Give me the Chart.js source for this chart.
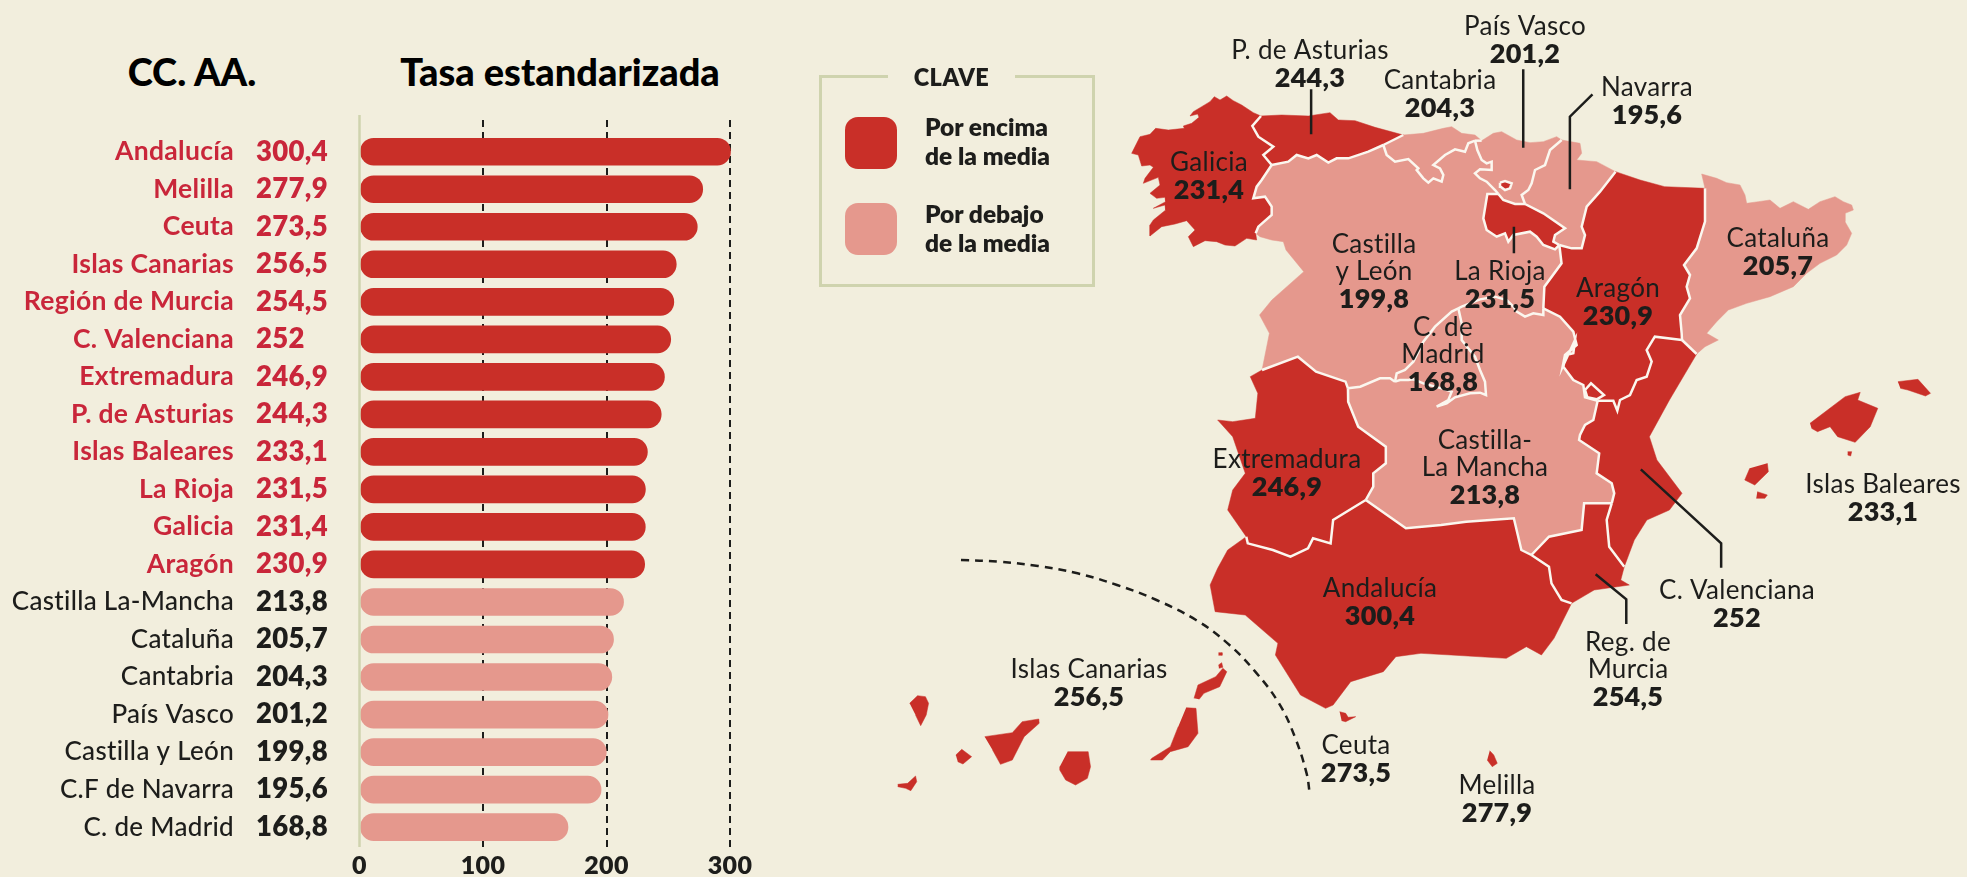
<!DOCTYPE html>
<html lang="es">
<head>
<meta charset="UTF-8">
<title>Tasa estandarizada por CC. AA.</title>
<script src="https://cdn.jsdelivr.net/npm/chart.js"></script>
<style>
    html, body { margin: 0; padding: 0; background: #f2eedd; overflow: hidden; }
    body { width: 1967px; height: 877px; position: relative; font-family: Lato, sans-serif; color: #1d1d1b; }
    canvas { position: absolute; top: 0; }
    #barChart { left: 0; }
    #mapChart { left: 780px; }
    .title { position: absolute; top: 48px; font-size: 38px; font-weight: 900; color: #000; transform: translateX(-50%); white-space: nowrap; }
    #clave { position: absolute; left: 819px; top: 75px; width: 270px; height: 206px; border: 3px solid #cfd3ae; }
    #clave .head { position: absolute; left: 66px; top: -14px; width: 127px; text-align: center; background: #f2eedd; font-weight: 800; font-size: 23.5px; line-height: 26px; letter-spacing: .5px; }
    #clave .swatch { position: absolute; left: 23px; width: 52px; height: 52px; border-radius: 13px; }
    #clave .txt { position: absolute; left: 103px; font-weight: 800; font-size: 24.5px; line-height: 29px; white-space: nowrap; }
</style>
</head>
<body>
<div class="title" style="left:192px">CC. AA.</div>
<div class="title" style="left:560px">Tasa estandarizada</div>
<canvas id="barChart" width="780" height="877"></canvas>
<canvas id="mapChart" width="1187" height="877"></canvas>
<div id="clave">
    <div class="head">CLAVE</div>
    <div class="swatch" style="top:39px;background:#c92f28"></div>
    <div class="txt" style="top:34px">Por encima<br>de la media</div>
    <div class="swatch" style="top:125px;background:#e5988d"></div>
    <div class="txt" style="top:121px">Por debajo<br>de la media</div>
</div>

<script>
    const regions = ['Andalucía', 'Melilla', 'Ceuta', 'Islas Canarias', 'Región de Murcia', 'C. Valenciana',
        'Extremadura', 'P. de Asturias', 'Islas Baleares', 'La Rioja', 'Galicia', 'Aragón',
        'Castilla La-Mancha', 'Cataluña', 'Cantabria', 'País Vasco', 'Castilla y León', 'C.F de Navarra', 'C. de Madrid'];
    const tasas = [300.4, 277.9, 273.5, 256.5, 254.5, 252, 246.9, 244.3, 233.1, 231.5, 231.4, 230.9,
        213.8, 205.7, 204.3, 201.2, 199.8, 195.6, 168.8];
    const xTicks = [0, 100, 200, 300];
    const nAbove = 12;

    const RED = '#c92f28', PINK = '#e5988d', TXTRED = '#c9263a', DARK = '#1d1d1b', LINE = '#fbf7ef';
    const fmt = v => String(v).replace('.', ',');

    // rows are numbered from the top, the y scale leaves room above and below them
    const rowTicks = axis => { axis.ticks = tasas.map((_, i) => ({ value: i })); };
    const rowColor = ctx => ctx.index < nAbove ? TXTRED : DARK;
    const noPad = axis => { axis.paddingTop = 0; axis.paddingBottom = 0; };

    // Lato is a bit tighter than the original face
    const spacing = {
        id: 'spacing',
        beforeDraw(chart) { chart.ctx.letterSpacing = '0.3px'; }
    };

    // zero line sticks out a little above the dashed grid
    const zeroLine = {
        id: 'zeroLine',
        afterDatasetsDraw(chart) {
            const c = chart.ctx, x = chart.scales.x.getPixelForValue(0);
            c.save();
            c.strokeStyle = '#cfd3ae';
            c.lineWidth = 2.5;
            c.beginPath();
            c.moveTo(x, chart.chartArea.top - 5);
            c.lineTo(x, chart.chartArea.bottom);
            c.stroke();
            c.restore();
        }
    };

    new Chart(document.getElementById('barChart'), {
        type: 'bar',
        data: {
            datasets: [{
                data: tasas.map((v, i) => ({ x: v, y: i })),
                backgroundColor: tasas.map((_, i) => i < nAbove ? RED : PINK),
                barThickness: 27,
                borderRadius: 14,
                borderSkipped: false,
                clip: false
            }]
        },
        plugins: [spacing, zeroLine],
        options: {
            indexAxis: 'y',
            responsive: false,
            animation: false,
            layout: { padding: { top: 120, right: 50, bottom: 0, left: 0 } },
            plugins: { legend: { display: false }, tooltip: { enabled: false } },
            scales: {
                x: {
                    type: 'linear', min: 0, max: 300,
                    afterBuildTicks: axis => { axis.ticks = xTicks.map(v => ({ value: v })); },
                    afterFit: axis => { axis.height = 30; },
                    grid: { color: ctx => ctx.tick && ctx.tick.value === 0 ? 'transparent' : '#1d1d1b', lineWidth: 2, drawTicks: false },
                    border: { display: false, dash: [7, 5] },
                    ticks: { color: DARK, padding: 4, maxRotation: 0, font: { family: 'Lato', size: 25, weight: 800 } }
                },
                y: {
                    type: 'linear', position: 'left', reverse: true, min: -0.845, max: 18.53, offset: false,
                    afterBuildTicks: rowTicks,
                    afterFit: axis => { axis.width = 103.5; noPad(axis); },
                    grid: { display: false, drawTicks: false },
                    border: { display: false },
                    ticks: {
                        crossAlign: 'far', padding: 0, color: rowColor, autoSkip: false,
                        font: { family: 'Lato', size: 27.5, weight: 800 },
                        callback: (v) => fmt(tasas[v])
                    }
                },
                names: {
                    type: 'linear', position: 'left', reverse: true, min: -0.845, max: 18.53, offset: false,
                    afterBuildTicks: rowTicks,
                    afterFit: axis => { axis.width = 256; noPad(axis); },
                    grid: { display: false, drawTicks: false },
                    border: { display: false },
                    ticks: {
                        padding: 22, color: rowColor, autoSkip: false,
                        font: ctx => ctx.index < nAbove
                            ? { family: 'Lato', size: 26.5, weight: 700 }
                            : { family: 'Lato', size: 26, weight: 500 },
                        callback: (v) => regions[v]
                    }
                }
            }
        }
    });

    const crop = (ox, oy, sx, sy) => pts => pts.map(([X, Y]) => ({ x: ox + X * sx, y: oy + Y * sy }));
    const z3 = crop(1100, 0, 0.491, 1 / 3);
    const z4 = crop(1180, 340, 0.502, 1 / 3);
    const z5 = crop(880, 540, 0.395, 1 / 3);
    const g = crop(1125, 90, 1 / 3, 1 / 3);
    const r = crop(1380, 120, 1 / 3, 1 / 3);
    const k = crop(1680, 170, 1 / 3, 1 / 3);
    const a = crop(1530, 340, 1 / 3, 1 / 3);
    const m = crop(1380, 290, 1 / 3, 1 / 3);
    const rev = p => p.slice().reverse();

    // inner borders
    const galAst = g([[408,78],[382,108],[400,140],[445,170],[415,195],[440,225]]);
    const galCyl = g([[440,225],[410,270],[395,290],[385,325],[420,320],[440,350],[440,375],[400,410],[392,430]]);
    const astCyl = g([[440,225],[490,215],[515,195],[550,205],[575,195],[610,218],[635,205],[670,205],[730,185],[775,165]]);
    const astCan = g([[775,165],[835,135]]);
    const canCyl = g([[775,165],[785,195],[810,215],[850,207],[880,235]]).concat(r([[110,150],[130,175],[145,188],[160,175],[185,185],[190,165],[180,145],[160,135],[195,105],[225,88],[255,95],[265,70],[285,62]]));
    const canPv = r([[285,62],[305,62]]);
    const pvCyl = r([[285,62],[292,90],[305,120],[320,130],[335,125],[335,150],[300,148],[285,160],[300,175],[320,185],[345,210],[355,222]]);
    const pvNav = r([[545,60],[510,90],[495,135],[465,150],[455,190],[445,210],[425,225],[435,252]]);
    const pvRio = r([[355,222],[370,240],[405,252],[435,252]]);
    const rioCyl = r([[355,222],[322,222],[310,295],[320,330],[350,350],[375,340],[385,365],[400,345],[450,335],[470,350],[490,375],[525,388],[538,375]]);
    const rioNav = r([[435,252],[490,280],[555,325],[525,345],[520,365],[538,375]]);
    const navAr = r([[538,375],[575,385],[605,385],[615,345],[605,320],[620,260],[660,215]]).concat(z3([[1050,515]]));
    const arCyl = r([[538,375]]).concat(z3([[940,790],[905,860]]), m([[490,55]]));
    const cylClmN = m([[490,55],[490,75],[460,70],[435,80],[410,65],[400,50],[380,30],[345,20],[300,28],[245,50],[235,55]]);
    const cylClmS = z3([[505,1165],[530,1160]]).concat(m([[0,265],[30,265],[45,275]]));
    const madCyl = m([[235,55],[215,65],[165,110],[130,155],[100,215],[75,240],[50,250],[45,275]]);
    const madClm = m([[235,55],[245,100],[245,150],[285,200],[300,240],[315,275],[318,315],[300,308],[270,310],[225,322],[200,340],[170,350],[205,330],[215,305],[185,295],[130,280],[100,268],[85,270],[60,270],[45,275]]);
    const cylExt = z3([[330,1110],[403,1070],[440,1115],[500,1145],[505,1165]]);
    const arClm = m([[490,55],[540,80],[580,125],[590,165],[555,195],[548,230]]).concat(a([[135,0],[130,40],[108,45],[100,80],[130,120],[160,135],[165,172],[203,182]]));
    const arVal = a([[203,182],[250,182],[262,212],[270,180],[300,165],[320,120],[350,110],[365,65],[350,30]]).concat(z3([[1130,1010]]), k([[6,510]]));
    const arCat = k([[6,510],[5,490],[0,435],[30,385],[20,350],[30,315],[12,285],[50,235],[75,155],[75,55]]);
    const catVal = k([[6,510],[50,552]]);
    const extClm = z3([[505,1165]]).concat(z4([[335,185],[355,260],[410,320],[410,370],[385,400],[385,440],[370,480]]));
    const extAnd = z4([[370,480],[305,540],[300,610],[265,595],[255,625],[220,650],[185,630],[135,610],[132,590]]);
    const andClm = z4([[370,480],[450,565],[520,555],[570,545],[665,535],[680,630],[700,645]]);
    const andMur = z4([[700,645],[735,680],[740,730],[760,780],[780,790]]);
    const clmMur = z4([[700,645],[735,590],[800,570],[805,490],[860,490]]);
    const clmVal = z4([[860,490],[865,460],[860,430],[830,400],[835,340],[795,300]]).concat(a([[150,285],[165,255],[190,240],[203,182]]));
    const valMur = z4([[885,680],[855,620],[850,540],[860,490]]);
    const trevino = r([[360,188],[375,183],[395,190],[390,205],[375,210],[362,200],[360,188]]);
    const ademuz = a([[165,150],[183,130],[222,165],[200,178],[172,172],[165,150]]);

    // coasts and frontiers
    const coastGal = g([[408,78],[385,68],[350,45],[325,32],[305,18],[285,30],[268,20],[255,35],[230,50],[205,65],[195,78],[218,72],[222,82],[200,100],[175,108],[178,115],[130,120],[92,115],[75,133],[45,140],[35,160],[20,190],[40,195],[50,228],[75,225],[85,232],[60,265],[55,280],[100,262],[105,285],[75,310],[95,325],[120,322],[122,335],[85,355],[120,345],[122,360],[85,390],[75,405],[75,438],[110,410],[150,402],[185,392],[210,420],[190,440],[205,470],[240,452],[275,455],[300,465],[330,468],[365,445],[395,450],[392,430]]);
    const coastAst = g([[408,78],[470,75],[550,78],[615,68],[640,90],[690,92],[750,112],[835,135]]);
    const coastCan = g([[835,135]]).concat(r([[130,40],[190,25],[215,20],[245,40],[285,45],[305,62]]));
    const coastPv = r([[305,62],[340,40],[365,35],[410,60],[450,68],[490,65],[530,50],[545,60]]);
    const coastNav = r([[545,60],[600,70],[605,100],[590,120],[650,125]]).concat(z3([[1050,515]]));
    const coastAr = z3([[1050,515],[1100,540],[1150,560]]).concat(k([[75,55]]));
    const coastCat = k([[75,55],[65,12],[110,25],[140,38],[180,45],[195,75],[200,100],[235,95],[270,90],[300,115],[340,95],[385,118],[420,95],[465,80],[490,95],[515,105],[520,120],[495,130],[495,155],[515,190],[500,225],[470,255],[420,280],[380,310],[340,350],[270,380],[200,400],[145,420],[110,455],[80,490],[115,510],[75,530],[50,552]]);
    const coastVal = z4([[1030,40],[975,180],[935,290],[950,360],[1000,460],[975,510],[930,540],[905,600],[885,680]]);
    const coastMur = z4([[885,680],[878,720],[895,735],[825,750],[780,790]]);
    const coastAnd = z4([[780,790],[745,895],[720,945],[690,920],[650,955],[540,945],[480,940],[430,950],[405,995],[340,1025],[305,1095],[290,1105],[240,1065],[190,945],[195,910],[130,825],[70,815],[60,735],[75,685],[95,630],[132,590]]);
    const coastExt = z4([[132,590],[95,510],[105,450],[130,400],[105,290],[75,240],[105,245],[150,235],[155,160],[140,110]]).concat(z3([[330,1110]]));
    const coastCyl = g([[392,430],[405,440],[440,450],[475,455],[483,480]]).concat(z3([[415,815],[350,900],[325,945],[345,1000],[330,1110]]));

    const darkShapes = [
        [...coastGal, ...rev(galCyl), ...rev(galAst)],
        [...coastAst, ...rev(astCan), ...rev(astCyl), ...rev(galAst)],
        [...rioCyl, ...rev(rioNav), ...rev(pvRio)],
        trevino,
        [...coastAr, ...rev(arCat), ...rev(arVal), ...rev(arClm), ...rev(arCyl), ...navAr],
        [...coastVal, ...valMur, ...clmVal, ...arVal, ...catVal],
        ademuz,
        [...clmMur, ...rev(valMur), ...coastMur, ...rev(andMur)],
        [...coastAnd, ...rev(extAnd), ...andClm, ...andMur],
        [...extClm, ...extAnd, ...coastExt, ...cylExt],
        // islands and the two cities
        z5([[45,733],[70,730],[90,708],[93,725],[78,752],[65,745],[45,740]]),
        z5([[75,490],[95,467],[115,470],[123,490],[117,525],[103,557],[90,525]]),
        z5([[192,645],[207,628],[232,650],[210,672],[197,665]]),
        z5([[265,590],[335,578],[360,545],[402,537],[403,550],[365,590],[335,660],[305,673],[285,630]]),
        z5([[475,635],[527,635],[533,680],[525,715],[495,735],[470,720],[455,690],[455,680]]),
        z5([[775,503],[800,505],[805,580],[780,620],[735,635],[715,660],[685,660],[688,655],[735,620],[755,560]]),
        z5([[795,475],[805,435],[850,410],[868,385],[878,395],[860,440],[820,460],[808,478]]),
        z5([[857,375],[865,368],[868,382],[858,385]]),
        z5([[857,338],[866,338],[866,346],[857,346]]),
        z4([[318,1115],[330,1120],[335,1132],[350,1130],[330,1145],[322,1142]]),
        z4([[617,1232],[625,1245],[632,1270],[622,1280],[612,1260]]),
        z4([[1255,250],[1325,170],[1355,157],[1350,180],[1390,205],[1375,260],[1345,307],[1310,290],[1295,260],[1270,275],[1258,265]]),
        z4([[1430,125],[1470,118],[1495,160],[1485,168],[1450,150],[1435,145]]),
        z4([[1170,370],[1172,395],[1145,435],[1125,420],[1135,385]]),
        z4([[1150,455],[1170,465],[1165,475],[1148,475]]),
        z4([[1330,335],[1338,335],[1336,348],[1330,345]])
    ];
    const lightShapes = [
        [...coastCan, ...rev(canPv), ...rev(canCyl), ...astCan],
        [...coastPv, ...pvNav, ...rev(pvRio), ...rev(pvCyl), ...canPv],
        [...coastNav, ...rev(navAr), ...rev(rioNav), ...rev(pvNav)],
        [...coastCat, ...rev(catVal), ...arCat],
        [...arClm, ...rev(clmVal), ...rev(clmMur), ...rev(andClm), ...rev(extClm), ...cylClmS, ...rev(madClm), ...rev(cylClmN)],
        [...madCyl, ...rev(madClm)],
        [...galCyl, ...coastCyl, ...cylExt, ...cylClmS, ...rev(madCyl), ...rev(cylClmN), ...rev(arCyl), ...rev(rioCyl), ...rev(pvCyl), ...rev(canCyl), ...rev(astCyl)]
    ];
    const innerBorders = [galAst, galCyl, astCyl, astCan, canCyl, canPv, pvCyl, pvNav, pvRio, rioCyl, rioNav, navAr, arCyl,
        cylClmN, cylClmS, madCyl, madClm, cylExt, arClm, arVal, arCat, catVal, extClm, extAnd, andClm, andMur, clmMur, clmVal, valMur, trevino, ademuz];
    const leaders = [
        z3([[430,268],[430,403]]),
        z3([[862,208],[862,443]]),
        z3([[1003,283],[957,350],[957,568]]),
        z3([[843,680],[843,760]]),
        z4([[918,388],[1078,610],[1078,683]]),
        z4([[828,703],[889,778],[889,852]])
    ];
    const canariasCurve = z5([[205,60],[300,65],[400,78],[500,100],[600,135],[700,180],[800,240],[880,310],[950,395],[1010,490],[1050,590],[1080,700],[1088,762]]);

    const mapNames = [['País Vasco'], ['P. de Asturias'], ['Cantabria'], ['Navarra'], ['Galicia'], ['Castilla', 'y León'], ['La Rioja'], ['Aragón'], ['Cataluña'],
        ['C. de', 'Madrid'], ['Castilla-', 'La Mancha'], ['Extremadura'], ['Islas Baleares'], ['Andalucía'], ['C. Valenciana'], ['Reg. de', 'Murcia'], ['Islas Canarias'], ['Ceuta'], ['Melilla']];
    const mapValues = [201.2, 244.3, 204.3, 195.6, 231.4, 199.8, 231.5, 230.9, 205.7, 168.8, 213.8, 246.9, 233.1, 300.4, 252, 254.5, 256.5, 273.5, 277.9];
    // centre x and y of the first text line of every label
    const mapLabelX = [1525, 1310, 1440, 1647, 1209, 1374, 1500, 1618, 1778, 1443, 1485, 1287, 1883, 1380, 1737, 1628, 1089, 1356, 1497];
    const mapLabelY = [27, 51, 81, 88, 163, 245, 272, 289, 239, 328, 441, 460, 485, 589, 591, 643, 670, 746, 786];

    const mapLabels = {
        id: 'mapLabels',
        afterDatasetsDraw(chart) {
            const c = chart.ctx, sx = chart.scales.x, sy = chart.scales.y;
            c.save();
            c.fillStyle = DARK;
            c.textAlign = 'center';
            c.textBaseline = 'middle';
            c.letterSpacing = '0.3px';
            mapNames.forEach((lines, i) => {
                const x = sx.getPixelForValue(mapLabelX[i]);
                let y = sy.getPixelForValue(mapLabelY[i]);
                c.font = '400 26px Lato';
                lines.forEach(t => { c.fillText(t, x, y); y += 27; });
                c.font = '800 27px Lato';
                c.fillText(fmt(mapValues[i]), x, y);
            });
            c.restore();
        }
    };

    const shapeSet = (data, color, order) => ({ data, showLine: true, fill: 'shape', backgroundColor: color, borderColor: color, borderWidth: 0.5, pointRadius: 0, tension: 0, order });
    const lineSet = (data, color, width, order, extra) => ({ data, showLine: true, fill: false, borderColor: color, borderWidth: width, pointRadius: 0, tension: 0, order, ...extra });

    new Chart(document.getElementById('mapChart'), {
        type: 'scatter',
        data: {
            datasets: [
                ...lightShapes.map(s => shapeSet(s, PINK, 4)),
                ...darkShapes.map(s => shapeSet(s, RED, 3)),
                ...innerBorders.map(b => lineSet(b, LINE, 2.5, 2)),
                ...leaders.map(l => lineSet(l, DARK, 2.5, 1)),
                lineSet(canariasCurve, DARK, 2.5, 1, { tension: 0.4, borderDash: [8, 6] })
            ]
        },
        plugins: [mapLabels],
        options: {
            responsive: false,
            animation: false,
            plugins: { legend: { display: false }, tooltip: { enabled: false } },
            scales: {
                x: { type: 'linear', min: 780, max: 1967, display: false },
                y: { type: 'linear', min: 0, max: 877, reverse: true, display: false }
            }
        }
    });
</script>
</body>
</html>
